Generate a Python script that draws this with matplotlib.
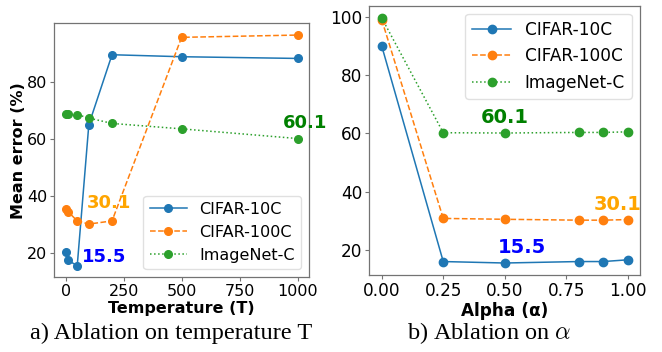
import numpy as np
import matplotlib
matplotlib.use("Agg")
import matplotlib.pyplot as plt

plt.rcParams['font.family'] = ['DejaVu Sans']
plt.rcParams['mathtext.fontset'] = 'cm'

series = ['CIFAR-10C', 'CIFAR-100C', 'ImageNet-C']
styles = ['-', '--', ':']
colors = ['#1f77b4', '#ff7f0e', '#2ca02c']

# a) temperature
temps = [1, 10, 50, 100, 200, 500, 1000]
temp_c10 = [20.3, 17.4, 15.5, 65.0, 89.5, 88.8, 88.2]
temp_c100 = [35.5, 34.5, 31.2, 30.1, 31.2, 95.6, 96.4]
temp_in = [68.7, 68.7, 68.5, 67.3, 65.4, 63.5, 60.1]

# b) alpha
alphas = [0.0, 0.25, 0.5, 0.8, 0.9, 1.0]
alpha_c10 = [90.0, 16.0, 15.5, 16.0, 16.0, 16.6]
alpha_c100 = [99.0, 30.8, 30.5, 30.2, 30.2, 30.4]
alpha_in = [99.6, 60.2, 60.1, 60.3, 60.3, 60.5]

fig = plt.figure(figsize=(6.62, 3.52), dpi=100)
ax1 = fig.add_axes([0.082, 0.212, 0.385, 0.7216])
ax2 = fig.add_axes([0.558, 0.218, 0.409, 0.766])


def draw(ax, x, ys, legend_loc, fs, ms):
    for y, ls, c, name in zip(ys, styles, colors, series):
        ax.plot(x, y, ls, color=c, marker='o', markersize=ms, lw=1.1, label=name)
    for s in ax.spines.values():
        s.set_color('0.45')
        s.set_linewidth(0.9)
    ax.tick_params(labelsize=fs, color='0.45', length=3, pad=2)
    leg = ax.legend(loc=legend_loc, fontsize=fs, handlelength=2.3)
    leg.get_frame().set_edgecolor('0.85')


fs1 = 11.5
draw(ax1, temps, [temp_c10, temp_c100, temp_in], 'lower right', fs1, 5.5)
ax1.set_xticks([0, 250, 500, 750, 1000])
ax1.set_yticks([20, 40, 60, 80])
ax1.set_ylim(11.4, 100.5)
ax1.set_xlabel('Temperature (T)', fontsize=fs1, fontweight='bold', labelpad=1)
ax1.set_ylabel('Mean error (%)', fontsize=fs1, fontweight='bold', labelpad=1)
ax1.text(69, 18.6, '15.5', color='blue', fontsize=13, fontweight='bold', va='center')
ax1.text(93, 37.4, '30.1', color='orange', fontsize=13, fontweight='bold', va='center')
ax1.text(936, 65.4, '60.1', color='green', fontsize=13, fontweight='bold', va='center',
         clip_on=False)

fs2 = 12.2
draw(ax2, alphas, [alpha_c10, alpha_c100, alpha_in], 'upper right', fs2, 6)
ax2.set_xticks([0.0, 0.25, 0.5, 0.75, 1.0])
ax2.set_yticks([20, 40, 60, 80, 100])
ax2.set_xlabel('Alpha (α)', fontsize=fs2, fontweight='bold', labelpad=1)
ax2.text(0.571, 20.7, '15.5', color='blue', fontsize=14, fontweight='bold',
         ha='center', va='center')
ax2.text(0.958, 35.6, '30.1', color='orange', fontsize=14, fontweight='bold',
         ha='center', va='center', clip_on=False)
ax2.text(0.5, 65.4, '60.1', color='green', fontsize=14, fontweight='bold',
         ha='center', va='center')

fig.text(171 / 662, 1 - 333 / 352, 'a) Ablation on temperature T', family='Liberation Serif',
         fontsize=17.5, ha='center', va='center')
fig.text(489 / 662, 1 - 333 / 352, r'b) Ablation on $\alpha$', family='Liberation Serif',
         fontsize=17.5, ha='center', va='center')

fig.savefig('out.png', dpi=100)
